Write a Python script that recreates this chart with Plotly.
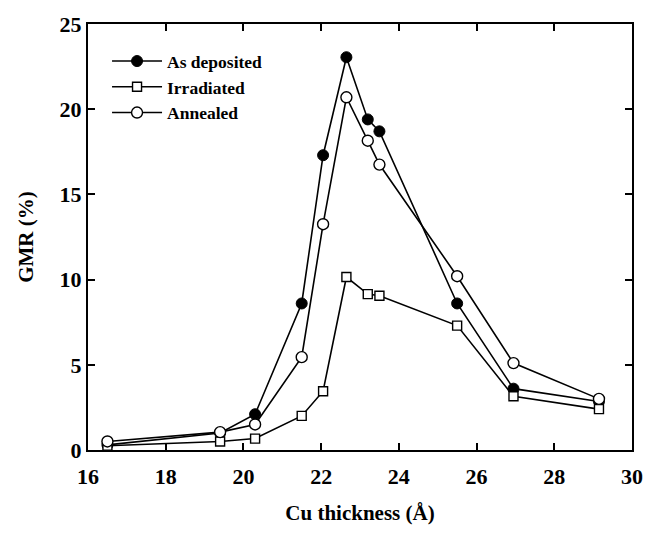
import plotly.graph_objects as go

# Cu spacer thickness (Angstrom)
cu_thickness = [16.5, 19.4, 20.3, 21.5, 22.05, 22.65, 23.2, 23.5, 25.5, 26.95, 29.15]

# GMR (%) for each sample state
gmr_as_deposited = [0.3, 1.0, 2.1, 8.6, 17.3, 23.05, 19.4, 18.7, 8.6, 3.6, 2.85]
gmr_irradiated = [0.25, 0.5, 0.67, 2.0, 3.45, 10.15, 9.15, 9.05, 7.3, 3.15, 2.4]
gmr_annealed = [0.5, 1.05, 1.5, 5.45, 13.25, 20.7, 18.15, 16.75, 10.2, 5.1, 3.0]

x_ticks = [16, 18, 20, 22, 24, 26, 28, 30]
y_ticks = [0, 5, 10, 15, 20, 25]

FONT = "Liberation Serif"

fig = go.Figure()

fig.add_trace(go.Scatter(
    x=cu_thickness, y=gmr_as_deposited, name="As deposited",
    mode="lines+markers",
    line=dict(color="black", width=1.6),
    marker=dict(symbol="circle", size=11, color="black",
                line=dict(color="black", width=1)),
))
fig.add_trace(go.Scatter(
    x=cu_thickness, y=gmr_irradiated, name="Irradiated",
    mode="lines+markers",
    line=dict(color="black", width=1.6),
    marker=dict(symbol="square", size=9, color="white",
                line=dict(color="black", width=1.4)),
))
fig.add_trace(go.Scatter(
    x=cu_thickness, y=gmr_annealed, name="Annealed",
    mode="lines+markers",
    line=dict(color="black", width=1.6),
    marker=dict(symbol="circle", size=11, color="white",
                line=dict(color="black", width=1.4)),
))

axis_common = dict(
    showline=True, linecolor="black", linewidth=2, mirror="ticks",
    ticks="inside", ticklen=7, tickwidth=2, tickcolor="black",
    showgrid=False, zeroline=False,
    tickfont=dict(family=FONT, size=22, color="black", weight="bold"),
)

fig.update_xaxes(
    range=[16, 30], tickvals=x_ticks,
    ticktext=[f"<b>{t}</b>" for t in x_ticks],
    ticklabelstandoff=6,
    title=dict(text="<b>Cu thickness (Å)</b>", standoff=17,
               font=dict(family=FONT, size=21, color="black")),
    **axis_common,
)
fig.update_yaxes(
    range=[0, 25], tickvals=y_ticks,
    ticktext=[f"<b>{t}</b>" for t in y_ticks],
    title=dict(text="<b>GMR (%)</b>", standoff=20,
               font=dict(family=FONT, size=21, color="black")),
    **axis_common,
)

fig.update_layout(
    width=655, height=533,
    margin=dict(l=88, r=22, t=16, b=81),
    plot_bgcolor="white", paper_bgcolor="white",
    font=dict(family=FONT, color="black", weight="bold"),
    legend=dict(
        x=0.035, y=0.955, xanchor="left", yanchor="top",
        bgcolor="rgba(0,0,0,0)", borderwidth=0,
        font=dict(family=FONT, size=17.5, color="black", weight="bold"),
        tracegroupgap=0, itemwidth=50,
    ),
)

fig.write_html("out.html")
